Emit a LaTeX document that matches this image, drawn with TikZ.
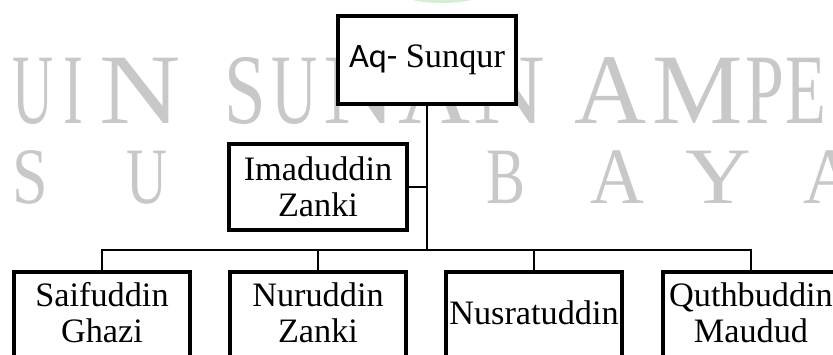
\documentclass[tikz,border=0pt]{standalone}
\usepackage{fontspec}
\usepackage{graphicx}
\setmainfont{Liberation Serif}
\newfontfamily\calib{Carlito}
\definecolor{wmgray}{RGB}{200,200,200}
\definecolor{blobgreen}{RGB}{214,236,214}
\tikzset{
  box/.style={draw, line width=3pt, fill=white, align=center, inner sep=0pt,
    font=\fontsize{25.7pt}{27pt}\selectfont},
  kid/.style={align=center, inner sep=0pt, outer sep=0pt,
    minimum width=132pt, minimum height=61.5pt,
    font=\fontsize{25.7pt}{27pt}\selectfont},
  kidbox/.style={draw, line width=3pt},
  conn/.style={draw, line width=1.9pt},
  wmA/.style={anchor=base, inner sep=0pt, text=wmgray, font=\fontsize{74.8pt}{75pt}\selectfont},
  wmB/.style={anchor=base, inner sep=0pt, text=wmgray, font=\fontsize{60pt}{60pt}\selectfont}
}
\begin{document}
\begin{tikzpicture}[x=0.75pt,y=-0.75pt]
\useasboundingbox (0,0) rectangle (833,354);
\clip (0,0) rectangle (833,354);
\fill[white] (0,0) rectangle (833,354);
% watermark
\fill[blobgreen] (442,-10) ellipse [x radius=46, y radius=13];
\foreach \ch/\x/\s [count=\i] in {U/33/0.57, I/73/0.6, N/140/1.13, S/245/0.75, U/295/0.64, N/360/1.0, A/435/1.0, N/510/1.0, A/611/1.0, M/698/1.02, P/765/0.7, E/806/0.67, L/862/0.7}
  \node[wmA] (wa\i) at (\x,123) {\scalebox{\s}[1]{\ch}};
\foreach \ch/\x/\s [count=\i] in {S/30/0.8, U/147/0.71, R/262/0.75, A/372/0.93, B/506/0.73, A/617/0.93, Y/718/1.14, A/830/0.93}
  \node[wmB] (wb\i) at (\x,203) {\scalebox{\s}[1]{\ch}};
% top boxes
\node[box, minimum width=133.5pt, minimum height=66pt] (aq) at (427,60) {{\calib Aq-} Sunqur};
\node[box, minimum width=133.5pt, minimum height=64.5pt] (iz) at (318,187) {Imaduddin\\Zanki};
% children
\node[kid] (sg) at (102,313) {Saifuddin\\Ghazi};
\node[kid] (nz) at (318,313) {Nuruddin\\Zanki};
\node[kid] (nu) at (534,313) {Nusratuddin};
\node[kid] (qm) at (751,313) {Quthbuddin\\Maudud};
\coordinate (low) at (0,400);
\coordinate (j) at (427,250);
\foreach \n in {sg,nz,nu,qm}
  \draw[kidbox] (\n.north west) rectangle (\n.east |- low);
% connectors
\draw[conn] (aq.south) -- (j);
\draw[conn] (iz.east) -- (iz.east -| j);
\draw[conn] (sg.north) |- (qm.north |- j) -- (qm.north);
\draw[conn] (nz.north) -- (nz.north |- j);
\draw[conn] (nu.north) -- (nu.north |- j);
\end{tikzpicture}
\end{document}
